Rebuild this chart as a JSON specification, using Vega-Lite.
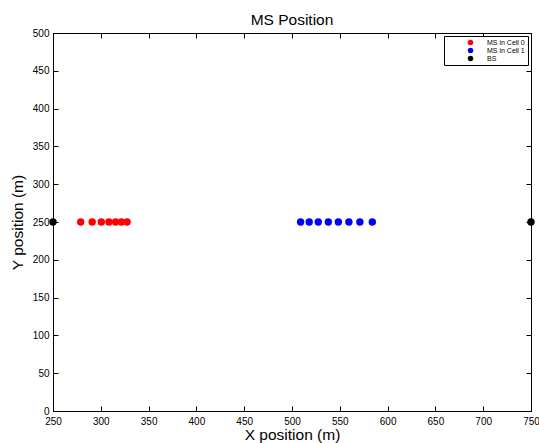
{
  "$schema": "https://vega.github.io/schema/vega-lite/v6.json",
  "width": 478,
  "height": 378,
  "autosize": "none",
  "padding": {"left": 53, "top": 33, "right": 8, "bottom": 32},
  "background": "white",
  "title": {"text": "MS Position", "fontSize": 15.5, "fontWeight": "normal", "font": "Liberation Sans", "offset": 0, "color": "black"},
  "config": {
    "view": {"stroke": "black", "strokeWidth": 1},
    "axis": {"labelFont": "Liberation Sans", "titleFont": "Liberation Sans", "labelFontSize": 10, "titleFontSize": 15.5, "titleFontWeight": "normal", "labelColor": "black", "titleColor": "black", "domainColor": "black", "tickColor": "black", "grid": false, "tickSize": -5, "domainWidth": 1}
  },
  "data": {"values": [
    {"x": 279, "y": 250, "group": "MS in Cell 0"},
    {"x": 291, "y": 250, "group": "MS in Cell 0"},
    {"x": 300.5, "y": 250, "group": "MS in Cell 0"},
    {"x": 308.5, "y": 250, "group": "MS in Cell 0"},
    {"x": 315.5, "y": 250, "group": "MS in Cell 0"},
    {"x": 321.5, "y": 250, "group": "MS in Cell 0"},
    {"x": 327.5, "y": 250, "group": "MS in Cell 0"},
    {"x": 509, "y": 250, "group": "MS in Cell 1"},
    {"x": 518, "y": 250, "group": "MS in Cell 1"},
    {"x": 527.5, "y": 250, "group": "MS in Cell 1"},
    {"x": 538, "y": 250, "group": "MS in Cell 1"},
    {"x": 548.5, "y": 250, "group": "MS in Cell 1"},
    {"x": 559.5, "y": 250, "group": "MS in Cell 1"},
    {"x": 571, "y": 250, "group": "MS in Cell 1"},
    {"x": 584, "y": 250, "group": "MS in Cell 1"},
    {"x": 250, "y": 250, "group": "BS"},
    {"x": 750, "y": 250, "group": "BS"}
  ]},
  "resolve": {"axis": {"x": "independent", "y": "independent"}},
  "layer": [
    {
      "mark": {"type": "point", "filled": true, "opacity": 0, "clip": false},
      "encoding": {
        "x": {"field": "x", "type": "quantitative", "scale": {"domain": [250, 750], "nice": false, "zero": false},
          "axis": {"orient": "top", "values": [250,300,350,400,450,500,550,600,650,700,750], "labels": false, "title": null, "domain": false}},
        "y": {"field": "y", "type": "quantitative", "scale": {"domain": [0, 500], "nice": false},
          "axis": {"orient": "right", "values": [0,50,100,150,200,250,300,350,400,450,500], "labels": false, "title": null, "domain": false}}
      }
    },
    {
      "mark": {"type": "point", "filled": true, "opacity": 1, "size": 55, "clip": false},
      "encoding": {
        "x": {"field": "x", "type": "quantitative", "scale": {"domain": [250, 750], "nice": false, "zero": false},
          "axis": {"orient": "bottom", "values": [250,300,350,400,450,500,550,600,650,700,750], "title": "X position (m)", "labelPadding": 10, "titlePadding": 1, "labelFlush": false}},
        "y": {"field": "y", "type": "quantitative", "scale": {"domain": [0, 500], "nice": false},
          "axis": {"orient": "left", "values": [0,50,100,150,200,250,300,350,400,450,500], "title": "Y position (m)", "labelPadding": 9, "titlePadding": 7, "labelFlush": false}},
        "color": {"field": "group", "type": "nominal",
          "scale": {"domain": ["MS in Cell 0", "MS in Cell 1", "BS"], "range": ["#ff0000", "#0000ff", "#000000"]},
          "legend": {"title": null, "orient": "top-right", "offset": 3, "strokeColor": "black", "fillColor": "white", "padding": 3, "labelFont": "Liberation Sans", "labelFontSize": 7, "labelColor": "black", "symbolSize": 30, "symbolType": "circle", "rowPadding": 0, "labelOffset": 13, "symbolOffset": 20, "labelLimit": 80}
        }
      }
    }
  ]
}
